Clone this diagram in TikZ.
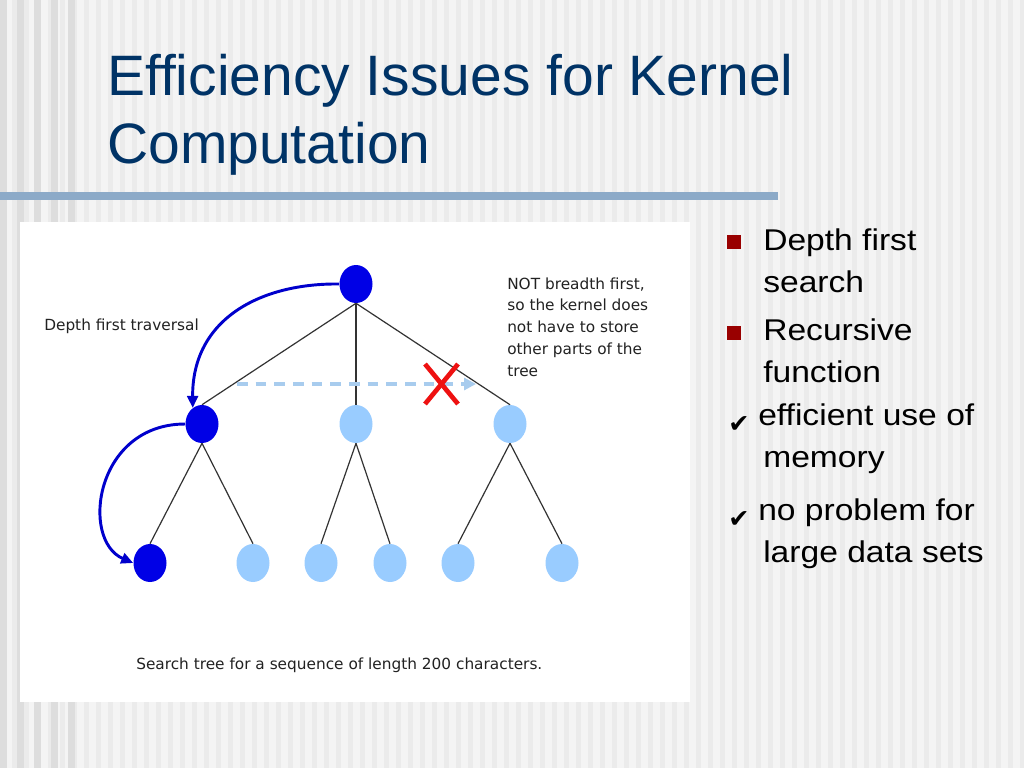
\documentclass[tikz,border=0pt]{standalone}
\usepackage{fontspec}
\setmainfont{Liberation Sans}
\newfontfamily\figfont{DejaVu Sans}
\newfontfamily\bulfont[FakeStretch=1.12]{Liberation Sans}
\newfontfamily\symfont{DejaVu Sans}
\usetikzlibrary{shapes.geometric,arrows.meta}
\definecolor{bgbase}{HTML}{F4F4F4}
\definecolor{bgstripe}{HTML}{EBEBEB}
\definecolor{bgdark}{HTML}{DDDDDD}
\definecolor{titlecol}{HTML}{003366}
\definecolor{barcol}{HTML}{8CAAC8}
\definecolor{darknode}{HTML}{0000E6}
\definecolor{lightnode}{HTML}{99CCFF}
\definecolor{arrowblue}{HTML}{0000CC}
\definecolor{dashblue}{HTML}{A8CCEE}
\definecolor{crossred}{HTML}{EE1111}
\definecolor{bulletred}{HTML}{990000}
\definecolor{figtextcol}{HTML}{222222}
\tikzset{
  treenode/.style={ellipse, minimum width=24.75pt, minimum height=28.5pt, inner sep=0pt},
  dnode/.style={treenode, fill=darknode},
  lnode/.style={treenode, fill=lightnode},
  treeline/.style={draw=black!80, line width=0.9pt},
  trav/.style={draw=arrowblue, line width=2.2pt, -{Triangle[length=9pt,width=8pt]}},
  bfsline/.style={draw=dashblue, line width=2.3pt, dash pattern=on 8pt off 6pt, -{Triangle[length=9pt,width=9pt]}},
  crossline/.style={draw=crossred, line width=3.5pt},
  figtext/.style={font=\figfont\fontsize{11.5}{16.3}\selectfont, text=figtextcol, inner sep=0pt, align=left},
  bultext/.style={font=\bulfont\fontsize{22.5}{31.5}\selectfont, text=black, inner sep=0pt, align=left},
  sqbullet/.style={fill=bulletred, minimum size=10.5pt, inner sep=0pt},
  chkbullet/.style={font=\symfont\fontsize{19}{19}\selectfont, inner sep=0pt},
}
\begin{document}
\begin{tikzpicture}[x=0.75pt,y=-0.75pt]
\useasboundingbox (0,0) rectangle (1024,768);
% background stripes
\fill[bgbase] (0,0) rectangle (1024,768);
\foreach \x in {0,12,...,1020} \fill[bgstripe] (\x,0) rectangle ++(5,768);
\foreach \x in {0,17,34,51,68} \fill[bgdark] (\x,0) rectangle ++(7,768);
% title (base anchor = baseline of last line)
\node[anchor=base west, inner sep=0pt, align=left, text=titlecol,
      font=\fontsize{42.75}{51}\selectfont] (title) at (107,163)
  {Efficiency Issues for Kernel\\Computation};
\fill[barcol] (0,192) rectangle (778,200);
% panel
\fill[white] (20,222) rectangle (690,702);
% tree nodes
\node[dnode] (r) at (356,284) {};
\node[dnode] (a) at (202,424) {};
\node[lnode] (b) at (356,424) {};
\node[lnode] (c) at (510,424) {};
\node[dnode] (a1) at (150,563) {};
\node[lnode] (a2) at (253,563) {};
\node[lnode] (b1) at (321,563) {};
\node[lnode] (b2) at (390,563) {};
\node[lnode] (c1) at (458,563) {};
\node[lnode] (c2) at (562,563) {};
\draw[treeline] (r.south) -- (a.north);
\draw[treeline] (r.south) -- (b.north);
\draw[treeline] (r.south) -- (c.north);
\draw[treeline] (a.south) -- (a1.north);
\draw[treeline] (a.south) -- (a2.north);
\draw[treeline] (b.south) -- (b1.north);
\draw[treeline] (b.south) -- (b2.north);
\draw[treeline] (c.south) -- (c1.north);
\draw[treeline] (c.south) -- (c2.north);
% traversal arrows
\draw[trav] (r.west) .. controls (262,283) and (192,318) .. (a.120);
\draw[trav] (a.west) .. controls (95,424) and (80,540) .. (a1.west);
% breadth-first dashed arrow and cross
\coordinate (bfsstart) at (237,384);
\coordinate (bfsend) at (476,384);
\draw[bfsline] (bfsstart) -- (bfsend);
\coordinate (xa) at (425,364);
\coordinate (xb) at (458,404);
\coordinate (xc) at (458,364);
\coordinate (xd) at (425,404);
\draw[crossline] (xa) -- (xb);
\draw[crossline] (xc) -- (xd);
% figure texts
\node[figtext, anchor=base west] (dft) at (44,330) {Depth first traversal};
\node[figtext, anchor=base west] (notbfs) at (507,376)
  {NOT breadth first,\\so the kernel does\\not have to store\\other parts of the\\tree};
\node[figtext, anchor=base west] (caption) at (136,669)
  {Search tree for a sequence of length 200 characters.};
% bullets (base anchor = baseline of last line)
\node[sqbullet] (sq1) at (734,242) {};
\node[bultext, anchor=base west] (t1) at (763,292) {Depth first\\search};
\node[sqbullet] (sq2) at (734,332.5) {};
\node[bultext, anchor=base west] (t2) at (763,382) {Recursive\\function};
\node[chkbullet] (ck1) at (739,425) {✔};
\node[bultext, anchor=base west] (t3) at (758,467) {efficient use of\\\hspace*{3.75pt}memory};
\node[chkbullet] (ck2) at (739,519) {✔};
\node[bultext, anchor=base west] (t4) at (758,562) {no problem for\\\hspace*{3.75pt}large data sets};
\end{tikzpicture}
\end{document}
